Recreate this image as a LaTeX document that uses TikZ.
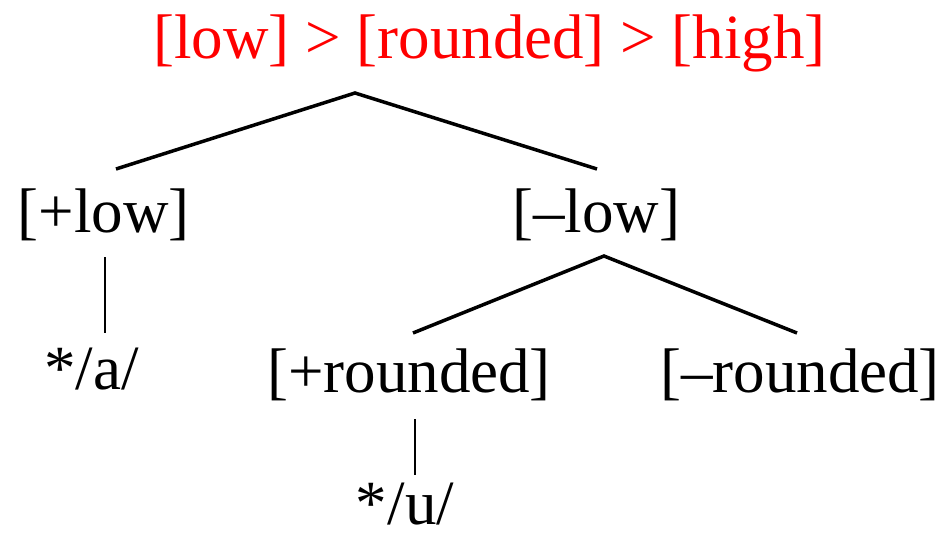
\documentclass[tikz,border=0pt]{standalone}
\usepackage{fontspec}
\setmainfont{Liberation Serif}
\begin{document}
\begin{tikzpicture}[x=1pt,y=-1pt,
  lbl/.style={anchor=base,inner sep=0pt,font=\fontsize{63}{70}\selectfont},
  branch/.style={line width=3.5pt,line cap=butt},
  stem/.style={line width=1.4pt}]
\useasboundingbox (0,0) rectangle (951,536);
\node[lbl,text={rgb,255:red,255;green,0;blue,0}] (title) at (489.5,58) {[low] > [rounded] > [high]};
\node[lbl] (plow) at (103.5,232) {[+low]};
\node[lbl] (mlow) at (596,232) {[–low]};
\node[lbl] (astar) at (91.5,389) {*/a/};
\node[lbl] (prnd) at (409,392) {[+rounded]};
\node[lbl] (mrnd) at (800,392) {[–rounded]};
\node[lbl] (ustar) at (405,524) {*/u/};
\coordinate (top1) at (355,93);
\coordinate (l1) at (116,169);
\coordinate (r1) at (597,169);
\coordinate (top2) at (604,256);
\coordinate (l2) at (413,333);
\coordinate (r2) at (797,333);
\coordinate (a1) at (105,257);
\coordinate (a2) at (105,333);
\coordinate (u1) at (415,419);
\coordinate (u2) at (415,475);
\draw[branch] (l1) -- (top1) -- (r1);
\draw[branch] (l2) -- (top2) -- (r2);
\draw[stem] (a1) -- (a2);
\draw[stem] (u1) -- (u2);
\end{tikzpicture}
\end{document}
